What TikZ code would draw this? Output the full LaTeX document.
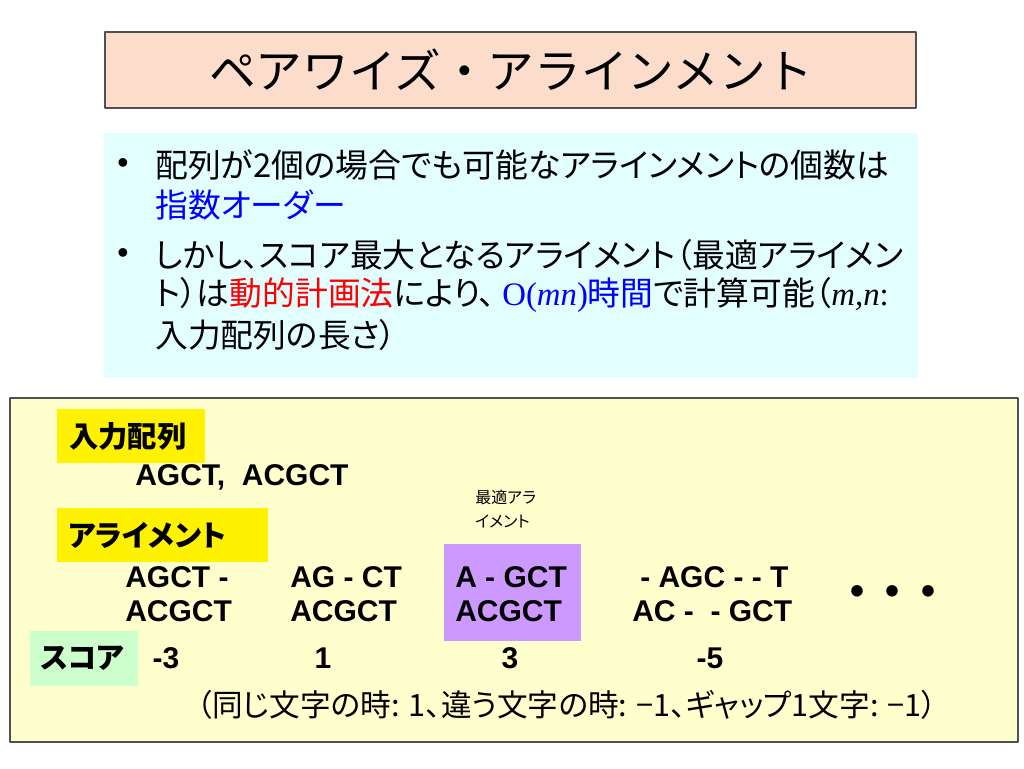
\documentclass[tikz,border=0pt]{standalone}
\usepackage{fontspec}
\setmainfont{Liberation Sans}
\newfontfamily\jpfont[RawFeature=+palt]{Noto Sans CJK JP}
\newfontfamily\jptitle{Noto Sans CJK JP}
\newfontfamily\romfont{Liberation Serif}
\definecolor{peach}{RGB}{252,221,204}
\definecolor{paleblue}{RGB}{226,254,255}
\definecolor{paleyellow}{RGB}{255,255,206}
\definecolor{lilac}{RGB}{204,153,255}
\definecolor{mint}{RGB}{204,255,204}
\definecolor{edgegray}{RGB}{80,80,80}

\begin{document}
\begin{tikzpicture}[x=0.75pt,y=-0.75pt,join=round,
        txt/.style={inner sep=0pt,anchor=west},
        body/.style={txt,font=\jpfont\fontsize{24.6}{30}\selectfont},
        seq/.style={txt,font=\bfseries\fontsize{22.5}{27}\selectfont},
        lbl/.style={txt,font=\jpfont\bfseries\fontsize{22}{27}\selectfont},
        score/.style={inner sep=0pt,font=\bfseries\fontsize{22.5}{27}\selectfont}]
        \useasboundingbox (0,0) rectangle (1024,768);
        % title
        \filldraw[fill=peach,draw=edgegray,line width=1pt](105,32) rectangle (916,108);
        \node[font=\jptitle\fontsize{35}{40}\selectfont] (title) at (511,70) {ペアワイズ・アラインメント};
        % bullets
        \fill[paleblue](104,133) rectangle (918,378);
        \node[font=\fontsize{24}{28}\selectfont] (dot1) at (123,166) {•};
        \node[font=\fontsize{24}{28}\selectfont] (dot2) at (123,256) {•};
        \node[body] (l1) at (155,165) {配列が2個の場合でも可能なアラインメントの個数は};
        \node[body,text=blue] (l2) at (155,205) {指数オーダー};
        \node[body] (l3) at (155,255) {しかし、スコア最大となるアライメント（最適アライメン};
        \node[body] (l4) at (155,295) {ト）は\textcolor{red}{動的計画法}により、\hspace{5pt}\textcolor{blue}{\romfont O(\textit{mn})\jpfont 時間}で計算可能（{\romfont\itshape m,n}{\romfont :}};
        \node[body] (l5) at (155,335) {入力配列の長さ）};
        % example
        \filldraw[fill=paleyellow,draw=edgegray,line width=1pt](10,398) rectangle (1018,742);
        \fill[yellow](57,409) rectangle (205,463);
        \fill[yellow](57,508) rectangle (268,562);
        \fill[lilac](444,544) rectangle (581,641);
        \fill[mint](30,631) rectangle (138,686);
        \node[lbl] (input) at (69,436) {入力配列};
        \node[seq] (pair) at (135,477) {AGCT,\ \ ACGCT};
        \node[txt,font=\jpfont\fontsize{12}{14}\selectfont] (best1) at (475,497) {最適アラ};
        \node[txt,font=\jpfont\fontsize{12}{14}\selectfont] (best2) at (475,521) {イメント};
        \node[lbl] (align) at (68,535) {アライメント};
        \node[seq] (a1) at (125,577) {AGCT -};
        \node[seq] (b1) at (125,611) {ACGCT};
        \node[seq] (a2) at (290,577) {AG - CT};
        \node[seq] (b2) at (290,611) {ACGCT};
        \node[seq] (a3) at (455,577) {A - GCT};
        \node[seq] (b3) at (455,611) {ACGCT};
        \node[seq] (a4) at (640,577) {- AGC - - T};
        \node[seq] (b4) at (632,611) {AC -\ \ - GCT};
        \node[inner sep=0pt,font=\bfseries\fontsize{30}{34}\selectfont] (more) at (893,595) {•\hspace{16pt}•\hspace{16pt}•};
        \node[lbl] (scorelbl) at (40,658) {スコア};
        \node[score] (s1) at (166,658) {-3};
        \node[score] (s2) at (323,658) {1};
        \node[score] (s3) at (510,658) {3};
        \node[score] (s4) at (710,658) {-5};
        \node[font=\jpfont\fontsize{23}{28}\selectfont,inner sep=0pt] (rule) at (567,705) {（同じ文字の時: 1、違う文字の時: −1、ギャップ1文字: −1）};
\end{tikzpicture}
\end{document}
